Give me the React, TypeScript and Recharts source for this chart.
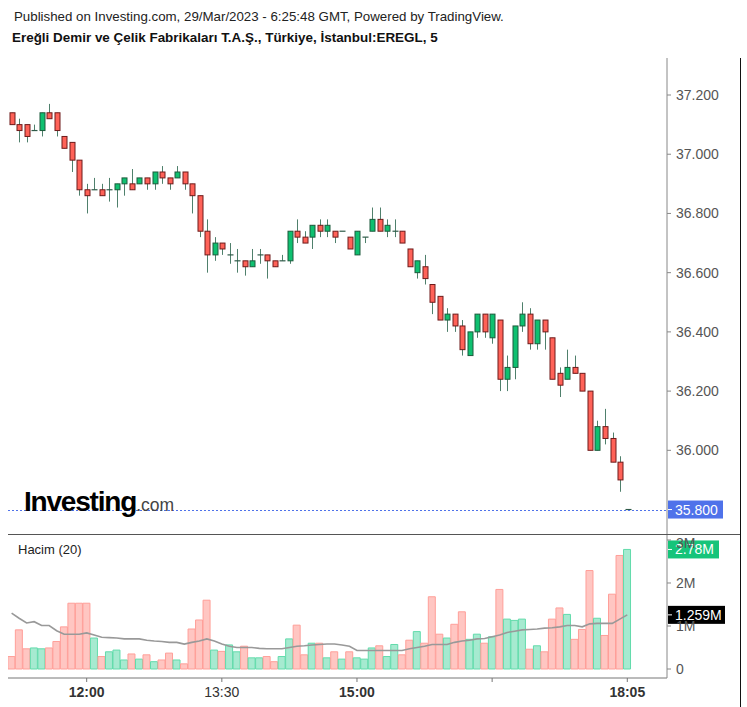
import React from 'react';
import { ComposedChart, Bar, Line, XAxis, YAxis, ReferenceLine, Cell } from 'recharts';

// 5-minute candles, 11:10 .. 18:05
const openP = [
  37.14, 37.10, 37.10, 37.08, 37.08, 37.14, 37.14, 37.06, 37.04, 36.98,
  36.88, 36.88, 36.88, 36.88, 36.88, 36.90, 36.90, 36.90, 36.92, 36.90,
  36.94, 36.92, 36.92, 36.94, 36.90, 36.86, 36.74, 36.66, 36.70, 36.66,
  36.64, 36.64, 36.62, 36.66, 36.66, 36.64, 36.64, 36.64, 36.74, 36.72,
  36.72, 36.76, 36.74, 36.74, 36.74, 36.72, 36.66, 36.72, 36.74, 36.78,
  36.74, 36.74, 36.74, 36.68, 36.60, 36.62, 36.56, 36.52, 36.44, 36.46,
  36.42, 36.32, 36.40, 36.46, 36.38, 36.44, 36.24, 36.28, 36.42, 36.46,
  36.36, 36.44, 36.38, 36.26, 36.24, 36.28, 36.26, 36.20, 36.00, 36.08,
  36.04, 35.96, 35.80,
];
const highP = [
  37.14, 37.12, 37.10, 37.10, 37.14, 37.17, 37.14, 37.06, 37.04, 36.98,
  36.90, 36.92, 36.90, 36.92, 36.90, 36.92, 36.95, 36.92, 36.92, 36.94,
  36.96, 36.92, 36.96, 36.94, 36.90, 36.86, 36.78, 36.72, 36.70, 36.70,
  36.68, 36.64, 36.68, 36.68, 36.66, 36.64, 36.66, 36.74, 36.78, 36.74,
  36.76, 36.78, 36.78, 36.74, 36.74, 36.72, 36.74, 36.72, 36.82, 36.82,
  36.78, 36.78, 36.74, 36.68, 36.64, 36.66, 36.56, 36.52, 36.48, 36.46,
  36.44, 36.40, 36.46, 36.46, 36.46, 36.44, 36.32, 36.42, 36.50, 36.48,
  36.44, 36.44, 36.38, 36.28, 36.34, 36.32, 36.26, 36.20, 36.10, 36.14,
  36.06, 35.98, 35.80,
];
const lowP = [
  37.10, 37.04, 37.04, 37.08, 37.06, 37.12, 37.06, 37.02, 36.94, 36.86,
  36.80, 36.88, 36.86, 36.84, 36.82, 36.86, 36.88, 36.90, 36.88, 36.88,
  36.90, 36.88, 36.92, 36.88, 36.80, 36.72, 36.60, 36.64, 36.66, 36.63,
  36.60, 36.59, 36.62, 36.63, 36.58, 36.62, 36.64, 36.63, 36.70, 36.70,
  36.68, 36.72, 36.72, 36.70, 36.74, 36.68, 36.66, 36.70, 36.74, 36.74,
  36.72, 36.72, 36.70, 36.62, 36.58, 36.56, 36.46, 36.44, 36.40, 36.40,
  36.32, 36.32, 36.38, 36.38, 36.36, 36.20, 36.20, 36.24, 36.40, 36.34,
  36.34, 36.34, 36.24, 36.18, 36.24, 36.26, 36.20, 36.00, 36.00, 36.02,
  35.96, 35.86, 35.80,
];
const closeP = [
  37.10, 37.08, 37.06, 37.08, 37.14, 37.12, 37.08, 37.02, 36.98, 36.88,
  36.86, 36.88, 36.86, 36.88, 36.90, 36.92, 36.88, 36.92, 36.90, 36.94,
  36.92, 36.90, 36.94, 36.90, 36.86, 36.74, 36.66, 36.70, 36.68, 36.66,
  36.64, 36.62, 36.64, 36.66, 36.64, 36.62, 36.64, 36.74, 36.72, 36.70,
  36.76, 36.74, 36.76, 36.72, 36.74, 36.68, 36.74, 36.72, 36.78, 36.74,
  36.76, 36.74, 36.70, 36.62, 36.64, 36.58, 36.50, 36.44, 36.46, 36.42,
  36.34, 36.40, 36.46, 36.40, 36.46, 36.24, 36.28, 36.42, 36.46, 36.36,
  36.44, 36.40, 36.24, 36.22, 36.28, 36.26, 36.20, 36.00, 36.08, 36.04,
  35.96, 35.90, 35.80,
];
// volume in millions
const volumeM = [
  0.29, 0.91, 0.47, 0.49, 0.47, 0.49, 0.64, 0.98, 1.53, 1.53,
  1.53, 0.72, 0.29, 0.40, 0.44, 0.21, 0.35, 0.23, 0.33, 0.17,
  0.21, 0.37, 0.21, 0.12, 0.93, 1.14, 1.60, 0.44, 0.41, 0.56,
  0.40, 0.53, 0.26, 0.26, 0.29, 0.17, 0.29, 0.70, 1.02, 0.33,
  0.60, 0.60, 0.26, 0.40, 0.23, 0.40, 0.26, 0.23, 0.49, 0.54,
  0.29, 0.57, 0.33, 0.67, 0.87, 0.60, 1.68, 0.81, 0.72, 1.04,
  1.33, 0.69, 0.81, 0.60, 0.75, 1.85, 1.16, 1.13, 1.16, 0.46,
  0.54, 0.40, 1.16, 1.42, 1.27, 0.69, 0.92, 2.29, 1.18, 0.78,
  1.74, 2.64, 2.78,
];
// 20-period volume average, millions
const volumeMa = [
  1.30, 1.18, 1.07, 1.10, 1.01, 1.01, 0.89, 0.81, 0.81, 0.81,
  0.84, 0.79, 0.74, 0.73, 0.72, 0.70, 0.70, 0.70, 0.67, 0.65,
  0.64, 0.62, 0.62, 0.58, 0.62, 0.65, 0.70, 0.65, 0.58, 0.53,
  0.50, 0.50, 0.50, 0.48, 0.47, 0.47, 0.47, 0.50, 0.53, 0.54,
  0.56, 0.57, 0.58, 0.58, 0.56, 0.53, 0.43, 0.43, 0.43, 0.43,
  0.43, 0.43, 0.43, 0.47, 0.50, 0.53, 0.57, 0.57, 0.57, 0.62,
  0.65, 0.67, 0.70, 0.71, 0.75, 0.79, 0.85, 0.88, 0.91, 0.92,
  0.93, 0.95, 0.96, 0.98, 1.01, 1.01, 0.98, 1.05, 1.06, 1.06,
  1.06, 1.16, 1.259,
];

const timeTicks = [10, 28, 46, 64, 82];
const timeLabels = ['12:00', '13:30', '15:00', '', '18:05'];
const boldLabels = ['12:00', '15:00', '18:05'];
const priceTicks = [36.0, 36.2, 36.4, 36.6, 36.8, 37.0, 37.2];
const volumeTicks = [0, 1, 2, 3];
const lastPrice = 35.8;
const lastVolume = 2.78;
const lastVolumeMa = 1.259;

const data = openP.map((o, i) => ({
  i,
  open: o,
  high: highP[i],
  low: lowP[i],
  close: closeP[i],
  vol: volumeM[i],
  ma: volumeMa[i],
}));

const FONT = "Arial, 'Liberation Sans', sans-serif";
const X_DOMAIN: [number, number] = [-0.48, 87.29];

function Candle(props: any) {
  const { x, y, width, height, payload } = props;
  const { open, close, high, low } = payload;
  const top = Math.min(y, y + height);
  const bottom = Math.max(y, y + height);
  const cx = Math.round(x + width / 2) + 0.5;
  const span = high - low;
  const pix = (v: number) => (span === 0 ? top : top + ((high - v) / span) * (bottom - top));
  const up = close >= open;
  const bTop = pix(Math.max(open, close));
  const bBot = pix(Math.min(open, close));
  const flat = bBot - bTop < 1;
  return (
    <g>
      <line x1={cx} x2={cx} y1={top} y2={bottom} stroke="#4f806c" strokeWidth={1} />
      {flat ? (
        <line x1={cx - 3} x2={cx + 3} y1={bTop} y2={bTop} stroke="#2e5a48" strokeWidth={1.2} />
      ) : (
        <rect
          x={cx - 2.5}
          y={bTop}
          width={5}
          height={bBot - bTop}
          fill={up ? '#0fc070' : '#ff6258'}
          stroke={up ? '#1d5a3c' : '#6e1b1b'}
          strokeWidth={1}
        />
      )}
    </g>
  );
}

// price / value tag on the right axis, optionally with a dotted guide line
function TagLabel(props: any) {
  const { viewBox, text, bg, w, guide } = props;
  const x = viewBox.x + viewBox.width + 1;
  const y = viewBox.y;
  const ly = Math.round(y) + 0.5;
  return (
    <g>
      {guide && (
        <line x1={viewBox.x} x2={viewBox.x + viewBox.width} y1={ly} y2={ly} stroke={guide} strokeWidth={1} strokeDasharray="2 2" />
      )}
      <rect x={x} y={y - 9} width={w} height={18} fill={bg} />
      <line x1={x} x2={x + 4} y1={y} y2={y} stroke="#fff" />
      <text x={x + 7} y={y + 5} fill="#fff" fontSize={14} fontFamily={FONT}>{text}</text>
    </g>
  );
}

function TimeTick(props: any) {
  const { x, y, payload } = props;
  const label = timeLabels[timeTicks.indexOf(payload.value)] ?? '';
  return (
    <text
      x={x}
      y={y}
      dy="0.71em"
      textAnchor="middle"
      fontSize={14}
      fontWeight={boldLabels.includes(label) ? 700 : 400}
      fill="#333"
      fontFamily={FONT}
    >
      {label}
    </text>
  );
}

export default function App() {
  return (
    <div style={{ position: 'absolute', left: 0, top: 0, width: 747, height: 707, background: '#fff', fontFamily: FONT, overflow: 'hidden' }}>
      <div style={{ position: 'absolute', left: 14, top: 9, fontSize: 13.3, color: '#222', whiteSpace: 'nowrap' }}>
        Published on Investing.com, 29/Mar/2023 - 6:25:48 GMT, Powered by TradingView.
      </div>
      <div style={{ position: 'absolute', left: 12, top: 30, fontSize: 13.45, fontWeight: 700, color: '#111', whiteSpace: 'nowrap' }}>
        Ereğli Demir ve Çelik Fabrikaları T.A.Ş., Türkiye, İstanbul:EREGL, 5
      </div>

      <div style={{ position: 'absolute', left: 0, top: 58 }}>
        <ComposedChart width={747} height={477} data={data} margin={{ top: 0, right: 0, bottom: 0, left: 8 }}>
          <XAxis dataKey="i" type="number" domain={X_DOMAIN} allowDataOverflow hide />
          <YAxis
            orientation="right"
            domain={[35.714, 37.325]}
            allowDataOverflow
            ticks={priceTicks}
            tickFormatter={(v: number) => v.toFixed(3)}
            width={80}
            axisLine={{ stroke: '#888' }}
            tickLine={{ stroke: '#888' }}
            tickSize={4}
            tickMargin={5}
            tick={{ fill: '#555', fontSize: 14, fontFamily: FONT }}
          />
          <Bar
            dataKey={(d: any) => [d.low, d.high]}
            barSize={6}
            shape={<Candle />}
            isAnimationActive={false}
          />
          <ReferenceLine
            y={lastPrice}
            stroke="none"
            label={<TagLabel text="35.800" bg="#4f72ea" w={55} guide="#4f72ea" />}
          />
        </ComposedChart>
      </div>

      <div style={{ position: 'absolute', left: 0, top: 535 }}>
        <ComposedChart width={747} height={172} data={data} margin={{ top: 0, right: 0, bottom: 0, left: 8 }}>
          <XAxis
            dataKey="i"
            type="number"
            domain={X_DOMAIN}
            allowDataOverflow
            ticks={timeTicks}
            height={29}
            axisLine={{ stroke: '#777' }}
            tickLine={{ stroke: '#777' }}
            tickSize={4}
            tickMargin={5}
            tick={<TimeTick />}
          />
          <YAxis
            orientation="right"
            domain={[-0.209, 3.116]}
            allowDataOverflow
            ticks={volumeTicks}
            tickFormatter={(v: number) => (v === 0 ? '0' : `${v}M`)}
            width={80}
            axisLine={{ stroke: '#888' }}
            tickLine={{ stroke: '#888' }}
            tickSize={4}
            tickMargin={5}
            tick={{ fill: '#555', fontSize: 14, fontFamily: FONT }}
          />
          <Bar dataKey="vol" barSize={7} isAnimationActive={false}>
            {data.map((d) => {
              const up = d.close >= d.open;
              return (
                <Cell
                  key={d.i}
                  fill={up ? '#a6ead0' : '#ffc6c2'}
                  stroke={up ? '#62dbab' : '#ff9f99'}
                  strokeWidth={1}
                />
              );
            })}
          </Bar>
          <Line dataKey="ma" type="linear" stroke="#999" strokeWidth={1.6} dot={false} isAnimationActive={false} />
          <ReferenceLine y={lastVolume} stroke="none" label={<TagLabel text="2.78M" bg="#16c47a" w={51} />} />
          <ReferenceLine y={lastVolumeMa} stroke="none" label={<TagLabel text="1.259M" bg="#000" w={57} />} />
        </ComposedChart>
      </div>

      <div style={{ position: 'absolute', left: 8, top: 534, width: 732, height: 1, background: '#555' }} />
      <div style={{ position: 'absolute', left: 740, top: 58, width: 1, height: 649, background: '#111' }} />

      <div style={{ position: 'absolute', left: 18, top: 542, fontSize: 13, color: '#222' }}>Hacim (20)</div>

      <div style={{ position: 'absolute', left: 24, top: 487, whiteSpace: 'nowrap', lineHeight: '30px' }}>
        <span style={{ fontSize: 28, fontWeight: 700, color: '#000', letterSpacing: -1.2 }}>Investing</span>
        <span style={{ fontSize: 17.5, color: '#444' }}>.com</span>
      </div>
    </div>
  );
}
